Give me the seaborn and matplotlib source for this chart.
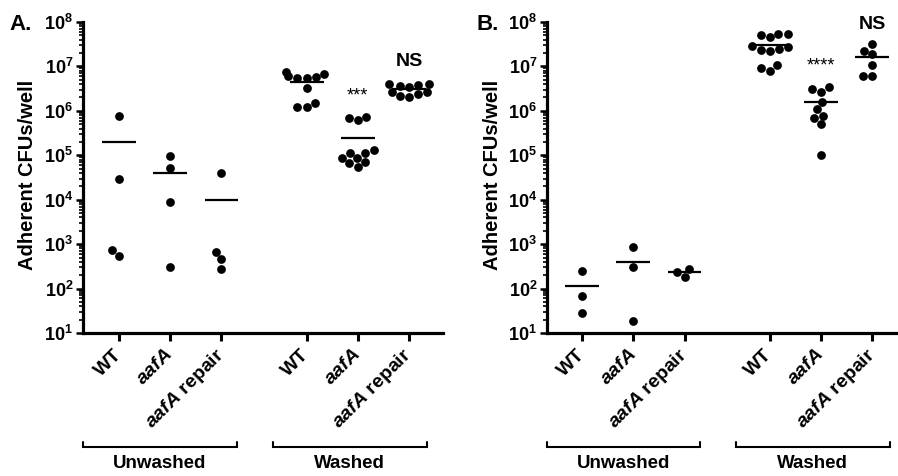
import numpy as np
import pandas as pd
import matplotlib
matplotlib.use("Agg")
import matplotlib.pyplot as plt
import seaborn as sns
from matplotlib.ticker import LogLocator, NullFormatter

# ---------------- data ----------------
strains = ["WT", "aafA", "aafA repair"]
conditions = ["Unwashed", "Washed"]
tick_labels = ["WT", r"$\mathit{aafA}$", r"$\mathit{aafA}$ repair"] * 2

A_unwashed_WT = [7.6e5, 3.0e4, 5.4e2, 7.3e2]
A_unwashed_aafA = [5.2e4, 9.7e4, 8.9e3, 3.1e2]
A_unwashed_repair = [3.9e4, 6.8e2, 4.7e2, 2.8e2]
A_washed_WT = [5.6e6, 6.0e6, 5.6e6, 6.6e6, 5.7e6, 7.6e6, 3.2e6, 1.5e6, 1.2e6, 1.2e6]
A_washed_aafA = [7.4e5, 6.2e5, 6.8e5, 1.31e5, 1.12e5, 8.7e4, 7.1e4, 5.5e4, 6.6e4, 8.7e4, 1.12e5]
A_washed_repair = [4.0e6, 3.6e6, 3.9e6, 3.5e6, 4.1e6, 2.7e6, 2.4e6, 2.2e6, 2.0e6, 2.6e6]

B_unwashed_WT = [2.45e2, 67, 28]
B_unwashed_aafA = [8.5e2, 3.0e2, 19]
B_unwashed_repair = [2.77e2, 1.86e2, 2.33e2]
B_washed_WT = [5.3e7, 5.0e7, 4.6e7, 5.5e7, 2.9e7, 2.5e7, 2.2e7, 2.4e7, 2.7e7, 1.07e7, 7.9e6, 9.4e6]
B_washed_aafA = [3.1e6, 2.7e6, 3.5e6, 1.6e6, 1.1e6, 6.8e5, 5.0e5, 7.8e5, 1.0e5]
B_washed_repair = [2.2e7, 1.9e7, 3.2e7, 1.1e7, 6.1e6, 6.1e6]

A_groups = [A_unwashed_WT, A_unwashed_aafA, A_unwashed_repair,
            A_washed_WT, A_washed_aafA, A_washed_repair]
B_groups = [B_unwashed_WT, B_unwashed_aafA, B_unwashed_repair,
            B_washed_WT, B_washed_aafA, B_washed_repair]

A_marks = {4: "***", 5: "NS"}
B_marks = {4: "****", 5: "NS"}

# ---------------- style ----------------
sns.set_theme(style="ticks")
plt.rcParams["font.family"] = ["Liberation Sans", "DejaVu Sans"]
plt.rcParams["font.weight"] = "bold"
plt.rcParams["mathtext.fontset"] = "custom"
plt.rcParams["mathtext.rm"] = "Liberation Sans:bold"
plt.rcParams["mathtext.it"] = "Liberation Sans:italic:bold"
plt.rcParams["mathtext.bf"] = "Liberation Sans:bold"
plt.rcParams["mathtext.default"] = "rm"
for key in ["text.color", "axes.labelcolor", "xtick.color", "ytick.color", "axes.edgecolor"]:
    plt.rcParams[key] = "black"

POS = [0, 1, 2, 3.66, 4.66, 5.66]

fig = plt.figure(figsize=(8.98, 4.76), dpi=100)
W, H = 898.0, 476.0


def px_axes(left, right, top, bottom):
    return fig.add_axes([left / W, 1 - bottom / H, (right - left) / W, (bottom - top) / H])


def draw_panel(ax, groups, marks, ns_factor, xlim, letter, letter_x, ylabel_x):
    rows = []
    for p, vals in zip(POS, groups):
        for v in vals:
            rows.append((p, v))
    df = pd.DataFrame(rows, columns=["pos", "cfu"])
    ax.set_yscale("log")
    ax.set_ylim(10, 1e8)
    ax.set_xlim(*xlim)
    sns.swarmplot(data=df, x="pos", y="cfu", native_scale=True, orient="x",
                  color="black", size=6.3, linewidth=0, ax=ax)
    ax.set_yscale("log")
    ax.set_ylim(10, 1e8)
    ax.set_xlim(*xlim)
    for p, vals in zip(POS, groups):
        ax.hlines(np.mean(vals), p - 0.33, p + 0.33, color="black", lw=1.6, zorder=3)
    # significance marks
    for i, txt in marks.items():
        top = max(groups[i])
        if txt == "NS":
            ax.text(POS[i], top * ns_factor, txt, ha="center", va="center",
                    fontsize=14, fontweight="bold", color="black")
        else:
            ax.text(POS[i], top * 1.9, txt, ha="center", va="bottom",
                    fontsize=13, fontweight="normal", color="black")
    # axes styling
    for s in ["top", "right"]:
        ax.spines[s].set_visible(False)
    for s in ["left", "bottom"]:
        ax.spines[s].set_linewidth(2.3)
        ax.spines[s].set_color("black")
    ax.yaxis.set_major_locator(LogLocator(base=10, numticks=20))
    ax.yaxis.set_minor_locator(LogLocator(base=10, subs=np.arange(2, 10), numticks=20))
    ax.yaxis.set_minor_formatter(NullFormatter())
    ax.tick_params(axis="y", which="major", length=5, width=1.8, labelsize=13, pad=2, colors="black")
    ax.tick_params(axis="y", which="minor", length=3, width=1.2, colors="black")
    ax.set_xticks(POS)
    ax.set_xticklabels(tick_labels, rotation=45, ha="right", va="center",
                       rotation_mode="anchor", fontsize=14, fontweight="bold")
    ax.tick_params(axis="x", which="major", length=6, width=2.2, pad=8, colors="black")
    ax.tick_params(axis="x", which="minor", length=0)
    ax.set_xlabel("")
    ax.set_ylabel("")
    fig.text(ylabel_x / W, 1 - 175 / H, "Adherent CFUs/well", rotation=90,
             ha="center", va="center", fontsize=14.5, fontweight="bold")
    fig.text(letter_x / W, 1 - 30 / H, letter, ha="left", va="baseline",
             fontsize=16, fontweight="bold")
    # brackets for conditions
    tr = ax.get_xaxis_transform()
    for (x0, x1), name in zip([(xlim[0], 2.3), (3.0, 6.0)], conditions):
        yb = -0.365
        ax.plot([x0, x0, x1, x1], [yb + 0.014, yb, yb, yb + 0.014], transform=tr,
                color="black", lw=1.5, clip_on=False, solid_joinstyle="miter")
        ax.text((x0 + x1) / 2, yb - 0.028, name, transform=tr, ha="center", va="top",
                fontsize=13.5, fontweight="bold")


axA = px_axes(83, 443, 22, 333)
draw_panel(axA, A_groups, A_marks, 3.07, (-0.7, 6.32), "A.", 9, 28)

axB = px_axes(547, 896, 22, 333)
draw_panel(axB, B_groups, B_marks, 2.8, (-0.68, 6.12), "B.", 477, 492)

fig.savefig("out.png", dpi=100)
